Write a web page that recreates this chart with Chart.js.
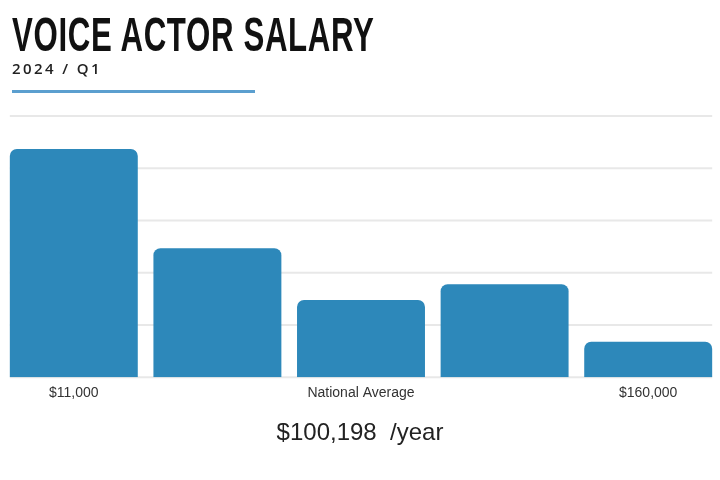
<!DOCTYPE html>
<html>
<head>
<meta charset="utf-8">
<title>Voice Actor Salary</title>
<script src="https://cdn.jsdelivr.net/npm/chart.js@4.4.1/dist/chart.umd.min.js"></script>
<style>
    html, body { margin: 0; padding: 0; background: #fff; }
    body { width: 720px; height: 480px; position: relative; overflow: hidden; }
    #chartBox { position: absolute; left: 0; top: 0; width: 720px; height: 480px; }
    .title {
        position: absolute; left: 12px; top: 11px; margin: 0;
        font-family: "Liberation Sans", Arial, sans-serif;
        font-weight: bold; font-size: 48px; line-height: 1; color: #111;
        white-space: nowrap; transform: scaleX(0.65); transform-origin: left top;
        letter-spacing: 1px;
    }
    .subtitle {
        position: absolute; left: 12px; top: 61px;
        font-family: "Open Sans", sans-serif; font-weight: 600;
        font-size: 15px; line-height: 1; letter-spacing: 2.4px; color: #222;
    }
    .rule { position: absolute; left: 12px; top: 90px; width: 243px; height: 3px; background: #5b9fcf; }
    .average {
        position: absolute; left: 0; top: 420px; width: 720px; text-align: center;
        font-family: "Liberation Sans", Arial, sans-serif; font-size: 24px; line-height: 1;
        color: #222; white-space: pre;
    }
</style>
</head>
<body>
<div id="chartBox"><canvas id="salaryChart"></canvas></div>
<h1 class="title">VOICE ACTOR SALARY</h1>
<div class="subtitle">2024 / Q1</div>
<div class="rule"></div>
<div class="average">$100,198  /year</div>

<script>
// salary buckets, only three of them carry a label under the bar
var categories = ['$11,000', '', 'National Average', '', '$160,000'];
// bar heights (share of voice actors, %)
var shares = [43.7, 24.7, 14.8, 17.8, 6.8];
// horizontal guide lines
var yTicks = [0, 10, 20, 30, 40, 50];

// grid lines only run between the outer edges of the bars
var barGrid = {
    id: 'barGrid',
    beforeDatasetsDraw: function(chart) {
        var bars = chart.getDatasetMeta(0).data;
        if (!bars.length) return;
        var first = bars[0], last = bars[bars.length - 1];
        var left = first.x - first.width / 2;
        var right = last.x + last.width / 2;
        var y = chart.scales.y;
        var ctx = chart.ctx;
        ctx.save();
        ctx.strokeStyle = '#e8e8e8';
        ctx.lineWidth = 2;
        yTicks.forEach(function(v) {
            var py = y.getPixelForValue(v);
            ctx.beginPath();
            ctx.moveTo(left, py);
            ctx.lineTo(right, py);
            ctx.stroke();
        });
        ctx.restore();
    }
};

document.addEventListener('DOMContentLoaded', function() {
    var ctx = document.getElementById('salaryChart').getContext('2d');
    new Chart(ctx, {
        type: 'bar',
        data: {
            labels: categories,
            datasets: [{
                data: shares,
                backgroundColor: '#2d88ba',
                borderRadius: 7,
                borderSkipped: 'start',
                barPercentage: 0.891,
                categoryPercentage: 1
            }]
        },
        options: {
            responsive: true,
            maintainAspectRatio: false,
            animation: false,
            layout: { padding: { top: 116, left: 2, right: 0, bottom: 70 } },
            plugins: {
                legend: { display: false },
                tooltip: { enabled: false }
            },
            scales: {
                x: {
                    grid: { display: false, drawTicks: false },
                    border: { display: false },
                    ticks: {
                        padding: 8,
                        color: '#333',
                        autoSkip: false,
                        maxRotation: 0,
                        font: { family: 'Liberation Sans', size: 14 }
                    }
                },
                y: {
                    display: false,
                    min: 0,
                    max: 50
                }
            }
        },
        plugins: [barGrid]
    });
});
</script>
</body>
</html>
